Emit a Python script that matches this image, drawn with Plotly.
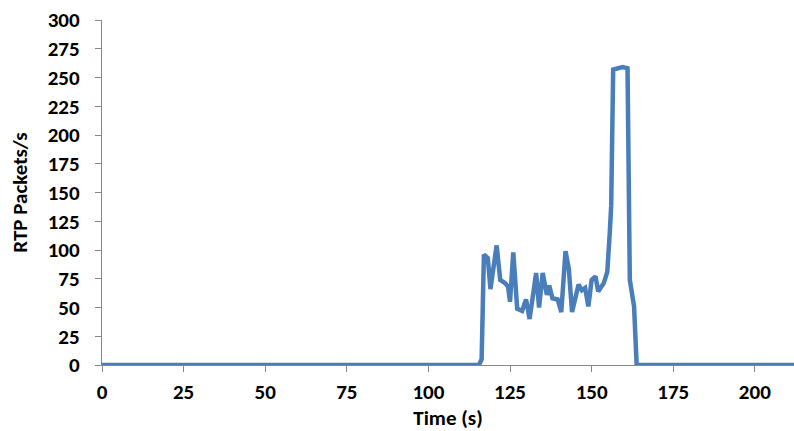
import plotly.graph_objects as go

time_s = [0, 115.5, 116.3, 117, 118.2, 119, 120.9, 122, 123.6, 124.4, 125, 126, 127.2, 128.7,
          129.9, 131, 133, 133.9, 135, 136.3, 137, 138, 139.6, 140.7, 142, 143, 144, 146,
          147, 148, 149, 150, 151.2, 152, 153.7, 154.8, 155.6, 156, 156.6, 158, 159.5,
          161, 161.7, 163, 163.8, 212]
rtp_pps = [0, 0, 5, 96, 93, 66, 104, 74, 71, 68, 55, 98, 49, 47,
           57, 40, 80, 50, 80, 61, 69, 58, 57, 46, 99, 84, 46, 70,
           65, 67, 51, 74, 77, 64, 71, 81, 117, 139, 257, 258, 259,
           258, 74, 51, 0, 0]

x_ticks = [0, 25, 50, 75, 100, 125, 150, 175, 200]
y_ticks = [0, 25, 50, 75, 100, 125, 150, 175, 200, 225, 250, 275, 300]

FONT = "Carlito, 'Liberation Sans Narrow', 'Liberation Sans', sans-serif"
AX = "#868686"
FS = 21

fig = go.Figure(go.Scatter(
    x=time_s, y=rtp_pps, mode="lines",
    line=dict(color="#4A7EBB", width=4.5),
    cliponaxis=False,
))

fig.update_layout(
    width=794, height=431,
    margin=dict(l=102, r=0, t=20, b=66),
    paper_bgcolor="white", plot_bgcolor="white",
    showlegend=False,
    font=dict(family=FONT, size=FS, color="black"),
)
fig.update_xaxes(
    range=[0, 212], tickvals=x_ticks, ticktext=[f"<b>{v}</b>" for v in x_ticks],
    showgrid=False, zeroline=False, showline=True, linecolor=AX, linewidth=1.3,
    ticks="outside", ticklen=6, tickcolor=AX, tickwidth=1.3,
    ticklabelstandoff=2,
    tickfont=dict(family=FONT, size=FS, color="black"),
    title=dict(text="<b>Time (s)</b>", font=dict(family=FONT, size=FS), standoff=5),
)
fig.update_yaxes(
    range=[0, 300], tickvals=y_ticks, ticktext=[f"<b>{v}</b>" for v in y_ticks],
    showgrid=False, zeroline=False, showline=True, linecolor=AX, linewidth=1.3,
    ticks="outside", ticklen=6, tickcolor=AX, tickwidth=1.3,
    ticklabelstandoff=11,
    tickfont=dict(family=FONT, size=FS, color="black"),
    title=dict(text="<b>RTP Packets/s</b>", font=dict(family=FONT, size=FS), standoff=14),
)

fig.write_html("out.html")
